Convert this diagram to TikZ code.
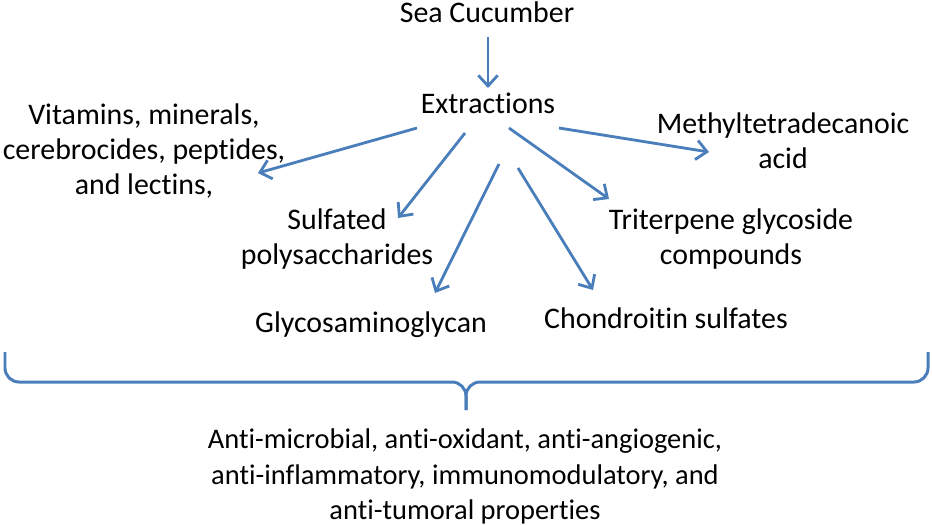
\documentclass[tikz,border=0pt]{standalone}
\usepackage{fontspec}
\setmainfont{Carlito}[Ligatures=NoCommon]
\usepackage{tikz}
\usetikzlibrary{arrows.meta}
\definecolor{arrowblue}{RGB}{74,126,187}

\begin{document}
\begin{tikzpicture}[x=0.02cm, y=-0.02cm, >={Straight Barb[length=6pt, width=11pt]},
    lbl/.style={align=center, inner sep=0pt, font=\fontsize{17}{20}\selectfont},
    arr/.style={->, draw=arrowblue, line width=1.6pt},
    bracket/.style={draw=arrowblue, line width=1.7pt, rounded corners=8}]
    \useasboundingbox (0,0) rectangle (932,524);

    % Source and extraction step
    \node[lbl] (sea) at (487, 12.5) {Sea Cucumber};
    \node[lbl] (ext) at (488, 103) {Extractions};

    % Extracted compounds
    \node[lbl] (vit) at (144, 151) {Vitamins, minerals,\\cerebrocides, peptides,\\and lectins,};
    \node[lbl] (sulf) at (337, 239) {Sulfated\\polysaccharides};
    \node[lbl] (glyc) at (371, 325) {Glycosaminoglycan};
    \node[lbl] (chond) at (666, 318.5) {Chondroitin sulfates};
    \node[lbl] (trit) at (731, 239) {Triterpene glycoside\\compounds};
    \node[lbl] (meth) at (783, 141) {Methyltetradecanoic\\acid};

    % Arrow ends
    \coordinate (seaOut) at (488, 37);
    \coordinate (extIn) at (488, 88);
    \coordinate (vitOut) at (417, 128);  \coordinate (vitIn) at (258, 173);
    \coordinate (sulfOut) at (465, 133); \coordinate (sulfIn) at (398, 218);
    \coordinate (glycOut) at (499, 164); \coordinate (glycIn) at (435, 293);
    \coordinate (chondOut) at (518, 168);\coordinate (chondIn) at (593, 290);
    \coordinate (tritOut) at (509, 128); \coordinate (tritIn) at (609, 199);
    \coordinate (methOut) at (559, 128); \coordinate (methIn) at (709, 152);

    \draw[arr] (seaOut) -- (extIn);
    \draw[arr] (vitOut) -- (vitIn);
    \draw[arr] (sulfOut) -- (sulfIn);
    \draw[arr] (glycOut) -- (glycIn);
    \draw[arr] (chondOut) -- (chondIn);
    \draw[arr] (tritOut) -- (tritIn);
    \draw[arr] (methOut) -- (methIn);

    % Bracket gathering everything into the properties
    \coordinate (braceL) at (5, 352);
    \coordinate (braceR) at (928, 352);
    \coordinate (braceMid) at (466, 382);
    \coordinate (braceTip) at (466, 410);
    \draw[bracket] (braceL) |- (braceMid) -- (braceTip);
    \draw[bracket] (braceR) |- (braceMid) -- (braceTip);

    \node[lbl, font=\fontsize{16.2}{20}\selectfont] (prop) at (465, 476.5) {Anti-microbial, anti-oxidant, anti-angiogenic,\\anti-inflammatory, immunomodulatory, and\\anti-tumoral properties};
\end{tikzpicture}
\end{document}
